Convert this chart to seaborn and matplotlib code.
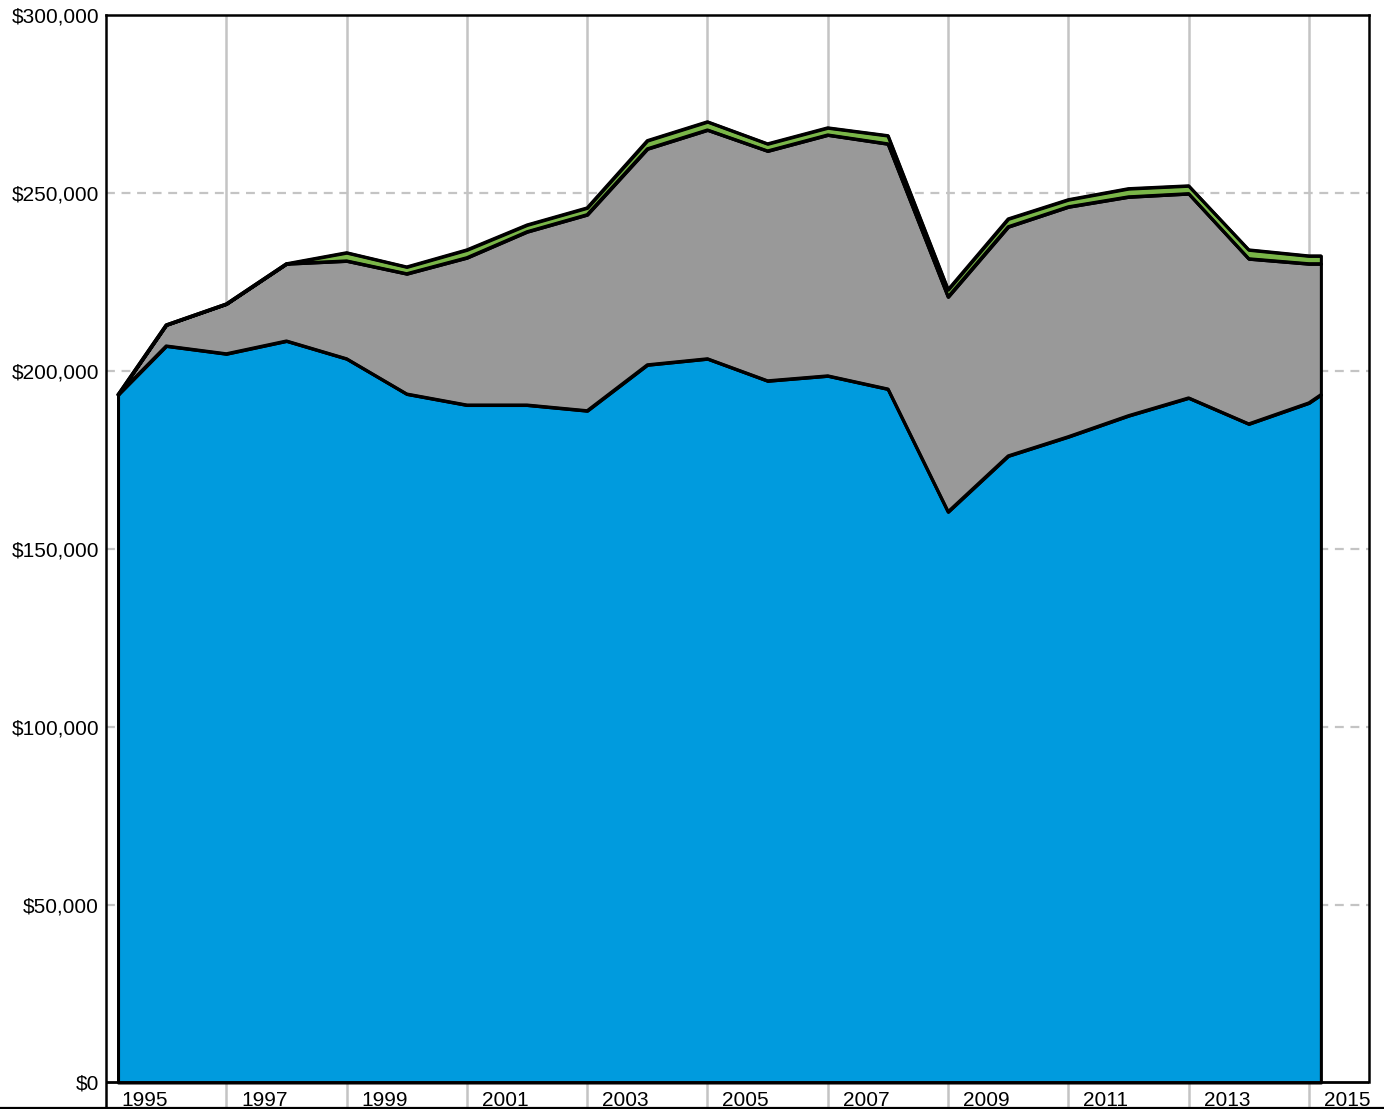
import matplotlib
matplotlib.use("Agg")
import matplotlib.pyplot as plt
import seaborn as sns
import pandas as pd
from matplotlib.lines import Line2D
from matplotlib.ticker import FuncFormatter

# ---- data ----
years = [1995.2, 1996, 1997, 1998, 1999, 2000, 2001, 2002, 2003, 2004, 2005,
         2006, 2007, 2008, 2009, 2010, 2011, 2012, 2013, 2014, 2015, 2015.2]
blue = [193300, 207000, 204800, 208400, 203400, 193500, 190400, 190400, 188800, 201700, 203400,
        197200, 198600, 194900, 160400, 176100, 181500, 187400, 192400, 185100, 191000, 193300]
gray = [0, 5900, 14000, 21700, 27500, 33800, 41400, 48700, 55100, 60700, 64300,
        64600, 67700, 68900, 60400, 64400, 64600, 61500, 57400, 46400, 39100, 36800]
green = [0, 0, 0, 0, 2300, 1900, 2200, 1900, 1900, 2300, 2300,
         2000, 2000, 2300, 2000, 2200, 2000, 2300, 2200, 2500, 2200, 2200]
xtick_years = [1995, 1997, 1999, 2001, 2003, 2005, 2007, 2009, 2011, 2013, 2015]
ytick_values = [0, 50000, 100000, 150000, 200000, 250000, 300000]

df = pd.DataFrame({"year": years, "blue": blue, "gray": gray, "green": green})
df["top_blue"] = df["blue"]
df["top_gray"] = df["blue"] + df["gray"]
df["top_green"] = df["top_gray"] + df["green"]

sns.set_theme(style="white")
plt.rcParams["font.family"] = ["Liberation Sans", "DejaVu Sans"]

W, H = 1384, 1109
fig = plt.figure(figsize=(W / 100, H / 100), dpi=100)
ax = fig.add_axes([106 / W, 1 - 1108 / H, (1369 - 106) / W, (1108 - 15) / H])

YMIN = -7170
ax.set_xlim(1995, 2016)
ax.set_ylim(YMIN, 300000)

colors = {"blue": "#009bde", "gray": "#999999", "green": "#7ab648"}
edge_lw = 2.2

ax.fill_between(df["year"], 0, df["top_blue"], facecolor=colors["blue"],
                edgecolor="black", linewidth=edge_lw, zorder=3)
ax.fill_between(df["year"], df["top_blue"], df["top_gray"], facecolor=colors["gray"],
                edgecolor="black", linewidth=edge_lw, zorder=4)
ax.fill_between(df["year"], df["top_gray"], df["top_green"], facecolor=colors["green"],
                edgecolor="black", linewidth=edge_lw, zorder=5)
for col in ["top_blue", "top_gray", "top_green"]:
    sns.lineplot(data=df, x="year", y=col, ax=ax, color="black", lw=edge_lw,
                 zorder=6, legend=False)

# grid lines
ax.set_yticks(ytick_values)
ax.yaxis.set_major_formatter(FuncFormatter(lambda v, p: f"${int(v):,}"))
ax.set_xticks(xtick_years)
ax.set_xticklabels([])
ax.grid(False)
for v in ytick_values[1:-1]:
    ax.axhline(v, color="#c4c4c4", lw=1.6, ls=(0, (4, 3)), zorder=1)
for yr in xtick_years[1:]:
    ax.axvline(yr, color="#c4c4c4", lw=1.8, zorder=1)

ax.axhline(0, color="black", lw=2.0, zorder=7)

ax.tick_params(axis="both", length=0)
ax.tick_params(axis="y", labelsize=15, pad=5, colors="black")
ax.set_xlabel("")
ax.set_ylabel("")

# x labels inside the lower band
for yr in xtick_years:
    ax.text(yr + 0.25, -6600, str(yr), ha="left", va="baseline",
            fontsize=15, color="black", zorder=8)

for side in ["left", "top", "right"]:
    ax.spines[side].set_visible(True)
    ax.spines[side].set_color("black")
    ax.spines[side].set_linewidth(1.8)
ax.spines["right"].set_bounds(0, 300000)
ax.spines["bottom"].set_visible(False)

fig.add_artist(Line2D([0, 1], [1 - 1107.5 / H, 1 - 1107.5 / H], transform=fig.transFigure,
                      color="black", lw=1.6))

fig.savefig("out.png", dpi=100)
